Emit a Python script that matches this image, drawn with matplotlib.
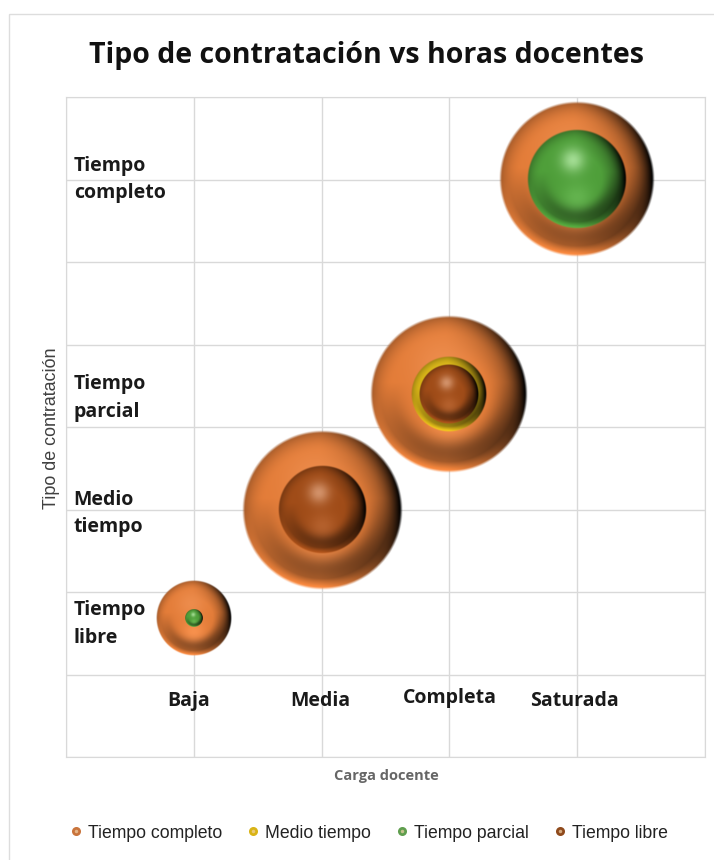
import numpy as np
import matplotlib
matplotlib.use('Agg')
import matplotlib.pyplot as plt
from matplotlib.colors import to_rgb
from matplotlib.lines import Line2D
from matplotlib.legend_handler import HandlerTuple
from matplotlib.patches import Rectangle

# data
x_labels = ['Baja', 'Media', 'Completa', 'Saturada']
x_label_pos = [0.96, 1.99, 3.0, 3.98]
x_label_y = [0.68, 0.68, 0.71, 0.68]
y_labels = ['Tiempo\nlibre', 'Medio\ntiempo', 'Tiempo\nparcial', 'Tiempo\ncompleto']
y_label_pos = [1.61, 2.95, 4.35, 7.0]

completo_x = [1, 2, 3, 4]
completo_y = [1.68, 3.0, 4.4, 7.0]
completo_s = [14.4, 64, 62.4, 60.8]

medio_x = [3]
medio_y = [4.4]
medio_s = [14.4]

parcial_x = [1, 4]
parcial_y = [1.68, 7.0]
parcial_s = [0.8, 25]

libre_x = [2, 3]
libre_y = [3.0, 4.4]
libre_s = [19.4, 9]

W, H = 714, 860
LEFT, RIGHT, TOP, BOTTOM = 66, 705, 97, 757
XMAX, YMAX = 5, 8
px_x = (RIGHT - LEFT) / XMAX
px_y = (BOTTOM - TOP) / YMAX


def sphere(color, glow_amt, glow_size, n=300):
    yy, xx = np.mgrid[-1:1:n * 1j, -1:1:n * 1j]
    r = np.hypot(xx, yy)
    base = np.array(to_rgb(color))
    # edge falloff, stronger on the right side and lower band
    shade = 1 - 0.3 * np.clip((r - 0.72) / 0.28, 0, 1) ** 2
    shade -= 0.8 * np.clip(xx + 0.05, 0, 1) ** 1.3 * np.clip((r - 0.5) / 0.5, 0, 1)
    shade -= 0.42 * np.exp(-((r - 0.72) / 0.17) ** 2) * np.clip(yy + 0.15, 0, 1)
    shade += 0.55 * np.clip((r - 0.86) / 0.14, 0, 1) * np.clip(yy, 0, 1)
    rgb = base[None, None, :] * np.clip(shade, 0, 1.1)[:, :, None]
    d = np.hypot(xx + 0.08, yy + 0.38)
    glow = glow_amt * np.exp(-(d / glow_size) ** 2)[:, :, None]
    rgb = rgb * (1 - glow) + (0.45 + 0.7 * base[None, None, :]) * glow
    low = 0.08 * np.exp(-(np.hypot(xx, yy - 0.38) / 0.3) ** 2)[:, :, None]
    rgb = rgb + low
    alpha = np.clip((1 - r) * 30, 0, 1)
    return np.dstack([np.clip(rgb, 0, 1), alpha])


def draw_series(ax, xs, ys, sizes, color, glow_amt=0.9, glow_size=0.24):
    img = sphere(color, glow_amt, glow_size)
    for x, y, s in zip(xs, ys, sizes):
        # bubble area follows the size value
        rad = 10 * np.sqrt(s)
        dx, dy = rad / px_x, rad / px_y
        ax.imshow(img, extent=[x - dx, x + dx, y - dy, y + dy], aspect='auto',
                  interpolation='bilinear', zorder=3, clip_on=False)


fig = plt.figure(figsize=(W / 100, H / 100), dpi=100, facecolor='white')
fig.add_artist(Rectangle((9 / W, -0.01), 2, (H - 14) / H + 0.01, transform=fig.transFigure,
                         fc='none', ec='#dddddd', lw=1))

ax = fig.add_axes([LEFT / W, 1 - BOTTOM / H, (RIGHT - LEFT) / W, (BOTTOM - TOP) / H])
draw_series(ax, completo_x, completo_y, completo_s, '#e37c38', 0.2, 0.4)
draw_series(ax, medio_x, medio_y, medio_s, '#dcb818', 0.3, 0.3)
draw_series(ax, parcial_x, parcial_y, parcial_s, '#4f9f3a')
draw_series(ax, libre_x, libre_y, libre_s, '#a04c18', 0.75, 0.24)

ax.set_xlim(0, XMAX)
ax.set_ylim(0, YMAX)
ax.set_xticks(range(XMAX + 1))
ax.set_yticks(range(YMAX + 1))
ax.grid(color='#d9d9d9', lw=1, zorder=0)
ax.set_axisbelow(True)
ax.tick_params(length=0, labelbottom=False, labelleft=False)
for sp in ax.spines.values():
    sp.set_color('#d9d9d9')

bold = dict(family='Open Sans', fontweight='bold', color='#1a1a1a', fontsize=14)
for x, y, lab in zip(x_label_pos, x_label_y, x_labels):
    ax.text(x, y, lab, ha='center', va='center', **bold)
for y, lab in zip(y_label_pos, y_labels):
    ax.text(0.06, y, lab, ha='left', va='center', linespacing=1.5, **bold)

sans = ['Liberation Sans']
fig.text(367 / W, 1 - 55 / H, 'Tipo de contratación vs horas docentes', ha='center', va='center',
         family='Open Sans', fontweight='bold', fontsize=20.5, color='#111111')
fig.text(386 / W, 1 - 776 / H, 'Carga docente', ha='center', va='center',
         family='Open Sans', fontweight='bold', fontsize=10.5, color='#666666')
fig.text(52 / W, 1 - 428 / H, 'Tipo de contratación', rotation=90, ha='center', va='center',
         family=sans, fontsize=12.9, color='#404040')

names = ['Tiempo completo', 'Medio tiempo', 'Tiempo parcial', 'Tiempo libre']
colors = ['#c9743c', '#d9b416', '#5f9e4e', '#8f4a1c']
handles = []
for c in colors:
    dot = Line2D([], [], ls='', marker='o', ms=6.5, mfc=c, mec='none')
    spot = Line2D([], [], ls='', marker='o', ms=2.5, mfc='#f2d2a8', mec='none', alpha=0.7)
    handles.append((dot, spot))
fig.legend(handles, names, loc='center', bbox_to_anchor=(368 / W, 1 - 833 / H), ncol=4, frameon=False,
           handler_map={tuple: HandlerTuple(ndivide=1, pad=0)},
           prop={'family': sans, 'size': 12.7}, labelcolor='#222222',
           handlelength=0.9, handletextpad=0.25, columnspacing=1.3)

fig.savefig('out.png', dpi=100)
